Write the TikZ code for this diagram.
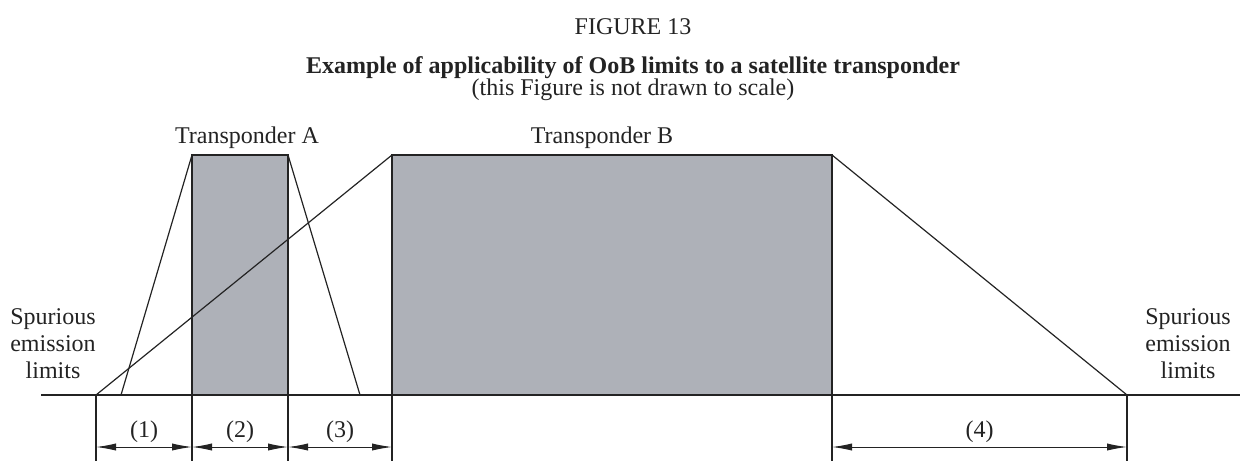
\documentclass[tikz,border=0pt]{standalone}
\usepackage{fontspec}
\setmainfont{Liberation Serif}
\usetikzlibrary{arrows.meta}
\usetikzlibrary{positioning}
\definecolor{bandgrey}{RGB}{174,177,184}
\definecolor{ink}{RGB}{35,35,35}
\tikzset{dim/.style = {{Latex[length=10pt,width=3.6pt]}-{Latex[length=10pt,width=3.6pt]}, line width=0.5pt}}
\tikzset{band/.style = {fill=bandgrey, draw=ink, line width=0.8pt}}
\tikzset{mask/.style = {line width=0.6pt}}
\tikzset{lbl/.style = {font=\fontsize{12}{13.5}\selectfont, inner sep=0, text=ink}}
\tikzset{heading/.style = {lbl, font=\fontsize{12}{13.5}\selectfont\bfseries}}

\begin{document}
\begin{tikzpicture}[x=0.5pt, y=-0.5pt, color=ink]
  \useasboundingbox (0,0) rectangle (1240,461);
  % titles
  \node [lbl, anchor=base] (fig) at (633,34) {FIGURE 13};
  \node [heading, anchor=base] (title) at (633,73) {Example of applicability of OoB limits to a satellite transponder};
  \node [lbl, anchor=base] (note) at (633,95) {(this Figure is not drawn to scale)};
  % frequency axis points
  \coordinate (f1) at (96,395);
  \coordinate (f2) at (192,395);
  \coordinate (f3) at (288,395);
  \coordinate (f4) at (392,395);
  \coordinate (f5) at (832,395);
  \coordinate (f6) at (1127,395);
  % transponders
  \draw [band] (f2) rectangle (288,155);
  \draw [band] (f4) rectangle (832,155);
  \draw [mask] (121,395) -- (192,155);
  \draw [mask] (288,155) -- (360,395);
  \draw [mask] (f1) -- (392,155);
  \draw [mask] (832,155) -- (f6);
  \draw [line width=0.8pt] (41,395) -- (1240,395);
  \node [lbl, anchor=base] (tA) at (247,143) {Transponder A};
  \node [lbl, anchor=base] (tB) at (602,143) {Transponder B};
  \node [lbl, align=center] (spL) at (53,344) {Spurious\\emission\\limits};
  \node [lbl, align=center] (spR) at (1188,344) {Spurious\\emission\\limits};
  % dimension lines
  \foreach \i in {1,...,6}
    \draw [line width=0.6pt] (f\i) -- ++(0,66) coordinate (d\i);
  \foreach \i/\j/\t in {1/2/(1), 2/3/(2), 3/4/(3), 5/6/(4)}
    \draw [dim] ([yshift=7pt]d\i) -- ([yshift=7pt]d\j) node [lbl, midway, above=2pt] (n\t) {\t};
\end{tikzpicture}
\end{document}
